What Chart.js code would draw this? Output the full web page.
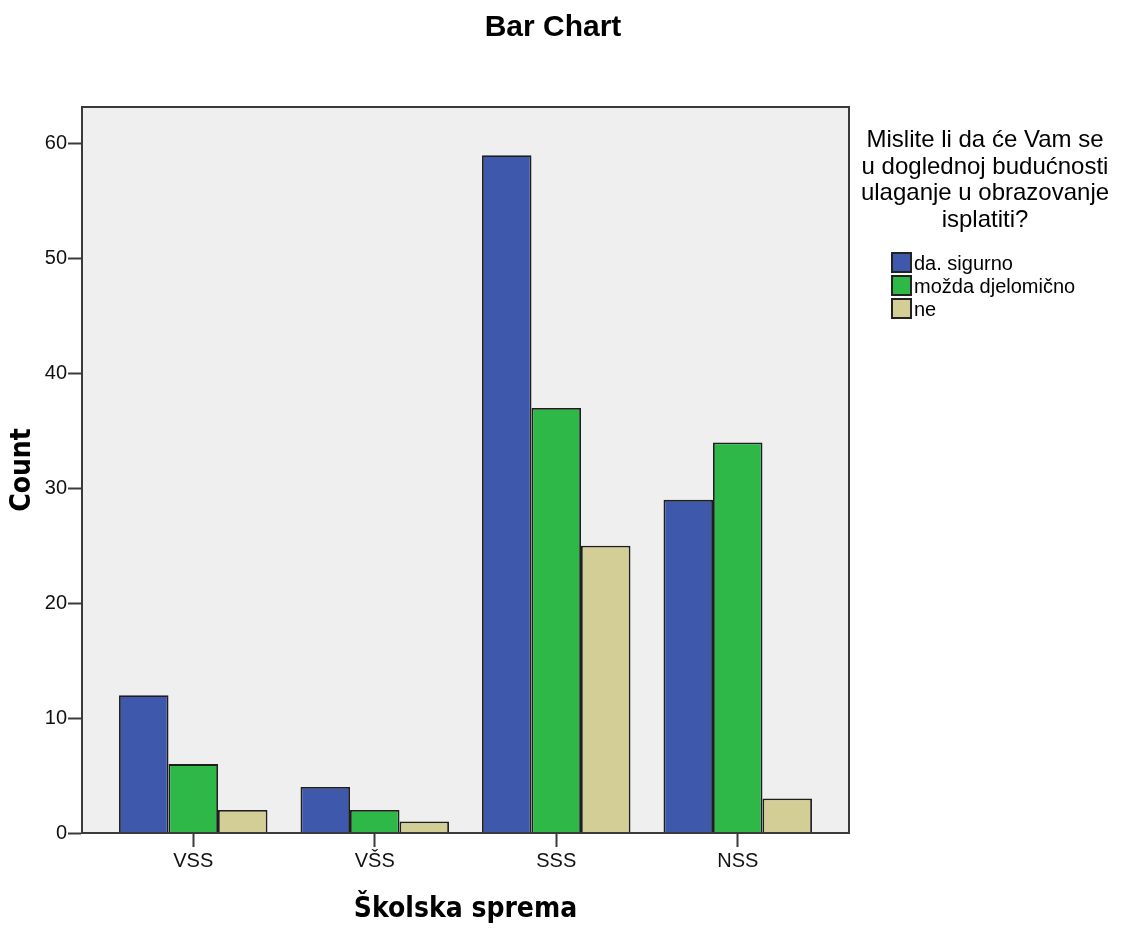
<!DOCTYPE html>
<html>
<head>
<meta charset="utf-8">
<script src="https://cdn.jsdelivr.net/npm/chart.js@4.4.1/dist/chart.umd.min.js"></script>
<style>
  html, body { margin: 0; padding: 0; background: #fff; }
</style>
</head>
<body>
<canvas id="chart" width="1121" height="930"></canvas>
<script>
// data
const categories = ['VSS', 'VŠS', 'SSS', 'NSS'];
const seriesNames = ['da. sigurno', 'možda djelomično', 'ne'];
const daSigurno = [12, 4, 59, 29];
const mozdaDjelomicno = [6, 2, 37, 34];
const ne = [2, 1, 25, 3];
const yTicks = [0, 10, 20, 30, 40, 50, 60];
const legendTitle = ['Mislite li da će Vam se', 'u doglednoj budućnosti', 'ulaganje u obrazovanje', 'isplatiti?'];

const colors = ['#3e58ac', '#2eb848', '#d3ce96'];
const lineColor = '#3a3a3a';
const tickFont = { family: "'Liberation Sans', Arial, sans-serif", size: 20 };
const axisTitleFont = { family: "'DejaVu Sans Condensed', 'DejaVu Sans', sans-serif", size: 28, weight: 'bold' };

function toPoints(values) {
  return values.map((v, i) => ({ x: i, y: v }));
}

// plot background, frame, title and the legend block on the right
const decorations = {
  id: 'decorations',
  beforeDraw(chart) {
    const { ctx, chartArea: a } = chart;
    ctx.save();
    ctx.fillStyle = '#efefef';
    ctx.fillRect(a.left, a.top, a.right - a.left, a.bottom - a.top);
    ctx.restore();
  },
  afterDatasetsDraw(chart) {
    const { ctx, chartArea: a } = chart;
    ctx.save();
    ctx.strokeStyle = lineColor;
    ctx.lineWidth = 2;
    ctx.strokeRect(a.left, a.top, a.right - a.left, a.bottom - a.top);
    ctx.restore();
  },
  afterDraw(chart) {
    const ctx = chart.ctx;
    ctx.save();
    ctx.fillStyle = '#000';
    ctx.textAlign = 'center';
    ctx.textBaseline = 'alphabetic';
    ctx.font = "bold 30px 'Liberation Sans', Arial, sans-serif";
    ctx.fillText('Bar Chart', 553, 36);

    ctx.font = "24px 'Liberation Sans', Arial, sans-serif";
    legendTitle.forEach((line, i) => {
      ctx.fillText(line, 985, 147 + i * 26.7);
    });

    ctx.textAlign = 'left';
    ctx.textBaseline = 'middle';
    ctx.font = "20px 'Liberation Sans', Arial, sans-serif";
    chart.data.datasets.forEach((ds, i) => {
      const y = 253 + i * 23;
      ctx.fillStyle = ds.backgroundColor;
      ctx.fillRect(892, y, 19, 19);
      ctx.strokeStyle = '#222';
      ctx.lineWidth = 2;
      ctx.strokeRect(892, y, 19, 19);
      ctx.fillStyle = '#000';
      ctx.fillText(ds.label, 914, y + 11);
    });
    ctx.restore();
  }
};

const datasets = [daSigurno, mozdaDjelomicno, ne].map((values, i) => ({
  label: seriesNames[i],
  data: toPoints(values),
  backgroundColor: colors[i],
  borderColor: '#1e1e1e',
  borderWidth: 1.8,
  categoryPercentage: 0.818,
  barPercentage: 1
}));

new Chart(document.getElementById('chart'), {
  type: 'bar',
  data: { datasets },
  options: {
    responsive: false,
    animation: false,
    devicePixelRatio: 1,
    layout: { padding: { top: 107, right: 272, bottom: 0, left: 0 } },
    plugins: {
      legend: { display: false },
      title: { display: false },
      tooltip: { enabled: false }
    },
    scales: {
      x: {
        type: 'linear',
        offset: false,
        min: -0.613,
        max: 3.613,
        afterBuildTicks: s => { s.ticks = categories.map((c, i) => ({ value: i })); },
        afterFit: s => { s.height = 97; },
        ticks: {
          callback: (v, i) => categories[i],
          font: tickFont,
          color: '#111',
          padding: 2,
          maxRotation: 0,
          autoSkip: false
        },
        grid: { offset: false, drawOnChartArea: false, tickLength: 14, tickColor: lineColor, tickWidth: 2 },
        border: { display: true, color: lineColor, width: 2 },
        title: {
          display: true,
          text: 'Školska sprema',
          font: axisTitleFont,
          color: '#000',
          padding: { top: 0, bottom: 3 }
        }
      },
      y: {
        min: 0,
        max: 63.2,
        afterBuildTicks: s => { s.ticks = yTicks.map(v => ({ value: v })); },
        afterFit: s => { s.width = 82; },
        ticks: { font: tickFont, color: '#111', padding: 1 },
        grid: { drawOnChartArea: false, tickLength: 14, tickColor: lineColor, tickWidth: 2 },
        border: { display: true, color: lineColor, width: 2 },
        title: {
          display: true,
          text: 'Count',
          font: axisTitleFont,
          color: '#000',
          padding: { top: 6, bottom: 0 }
        }
      }
    }
  },
  plugins: [decorations]
});
</script>
</body>
</html>
